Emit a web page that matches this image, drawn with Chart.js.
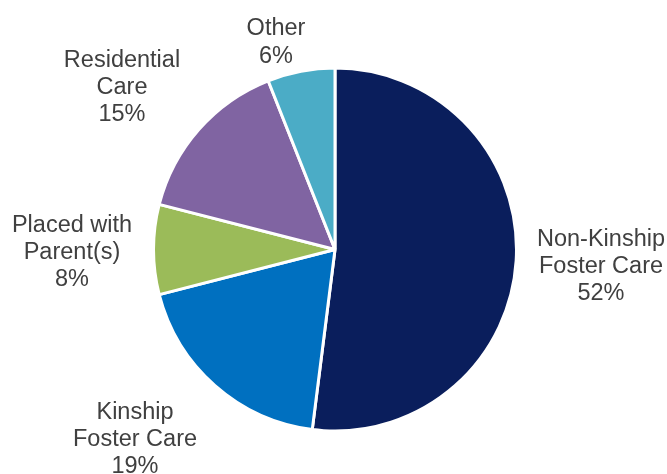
<!DOCTYPE html>
<html>
<head>
<meta charset="utf-8">
<script src="https://cdn.jsdelivr.net/npm/chart.js@4.4.1/dist/chart.umd.min.js"></script>
<style>
  html, body { margin: 0; padding: 0; background: #ffffff; }
  #wrap { width: 667px; height: 474px; }
</style>
</head>
<body>
<div id="wrap"><canvas id="pieChart" width="667" height="474"></canvas></div>
<script>
// data, clockwise from 12 o'clock
const categories = [
  ['Non-Kinship', 'Foster Care'],
  ['Kinship', 'Foster Care'],
  ['Placed with', 'Parent(s)'],
  ['Residential', 'Care'],
  ['Other']
];
const shares = [52, 19, 8, 15, 6];
const sliceColors = ['#0a1e5c', '#0070c0', '#9bbb59', '#8064a2', '#4bacc6'];

// where each label block sits, relative to the pie centre
const labelOffsets = [
  [266, 15],
  [-200, 188],
  [-263, 1],
  [-213, -164],
  [-59, -209]
];

const fontSize = 23.5;
const lineHeight = 27.3;

const outsideLabels = {
  id: 'outsideLabels',
  afterDraw(chart) {
    const ctx = chart.ctx;
    const arcs = chart.getDatasetMeta(0).data;
    ctx.save();
    ctx.font = `${fontSize}px "Liberation Sans", Arial, sans-serif`;
    ctx.fillStyle = '#404040';
    ctx.textAlign = 'center';
    ctx.textBaseline = 'alphabetic';
    arcs.forEach((arc, i) => {
      const lines = [...categories[i], `${shares[i]}%`];
      const cx = arc.x + labelOffsets[i][0];
      const cy = arc.y + labelOffsets[i][1];
      const top = cy - (lines.length - 1) * lineHeight / 2;
      lines.forEach((line, j) => {
        // baseline so that cap height is centred on the line
        ctx.fillText(line, cx, top + j * lineHeight + fontSize * 0.358);
      });
    });
    ctx.restore();
  }
};

new Chart(document.getElementById('pieChart'), {
  type: 'pie',
  data: {
    labels: categories.map((c) => c.join(' ')),
    datasets: [{
      data: shares,
      backgroundColor: sliceColors,
      borderColor: '#ffffff',
      borderWidth: 3,
      hoverOffset: 0,
      offset: 0
    }]
  },
  options: {
    responsive: false,
    animation: false,
    radius: 181.5,
    layout: { padding: { left: 3, right: 0, top: 40, bottom: 15 } },
    plugins: {
      legend: { display: false },
      tooltip: { enabled: false }
    }
  },
  plugins: [outsideLabels]
});
</script>
</body>
</html>
